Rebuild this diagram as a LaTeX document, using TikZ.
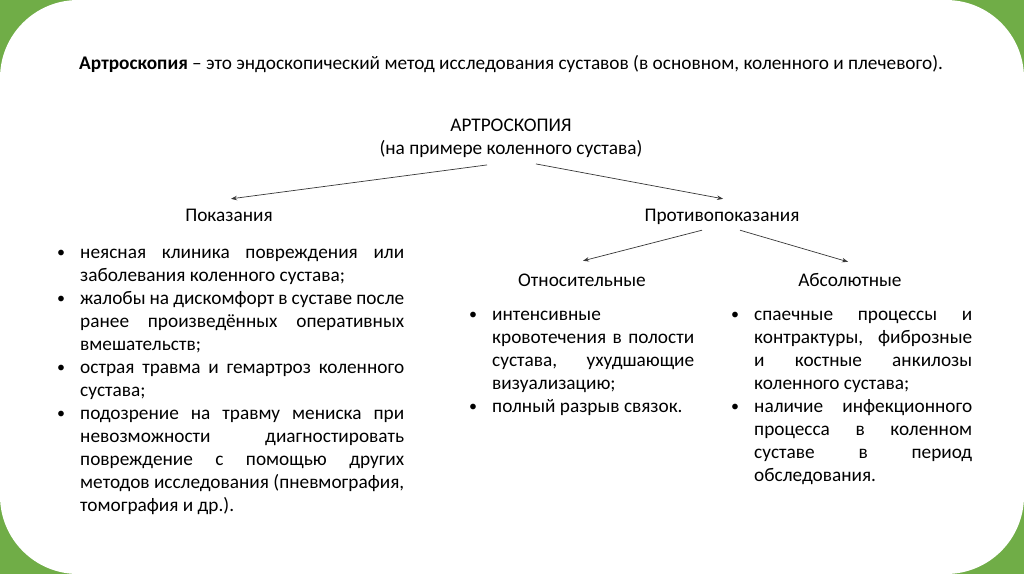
\documentclass[tikz,border=0pt]{standalone}
\usepackage{fontspec}
\setmainfont{Carlito}
\usetikzlibrary{arrows.meta}

\definecolor{slidegreen}{RGB}{112,173,71}
\definecolor{arrowgray}{RGB}{55,55,55}

% bullet item with hanging indent
\newcommand{\bitem}[1]{\par\noindent\hangindent=23pt\hangafter=1\hbox to 23pt{\raisebox{0.8pt}{\fontsize{16}{16}\selectfont\textbullet}\hfil}#1\par}

\tikzset{
  txt/.style={inner sep=0pt, font=\fontsize{19.3}{23}\selectfont},
  head/.style={txt, text height=12pt, text depth=4pt},
  blist/.style={txt, anchor=base west, align=justify,
    execute at begin node={\hyphenpenalty=10000\exhyphenpenalty=10000\tolerance=10000}},
  arr/.style={draw=arrowgray, line width=0.7pt, -{Stealth[length=6pt,width=4.5pt]}}
}

\begin{document}
\begin{tikzpicture}[x=1pt,y=-1pt]

  % Slide background
  \useasboundingbox (0,0) rectangle (1024,574);
  \fill[slidegreen] (0,0) rectangle (1024,574);
  \fill[white, rounded corners=78pt] (0,0) rectangle (1024,574);

  % Title line
  \node[txt, anchor=base west] (title) at (79,69)
    {\textbf{Артроскопия} – это эндоскопический метод исследования суставов (в основном, коленного и плечевого).};

  % Tree headings
  \node[txt, anchor=north, align=center, text depth=4pt] (root) at (511,119)
    {АРТРОСКОПИЯ\\(на примере коленного сустава)};
  \node[head, anchor=base] (pokaz) at (229,221) {Показания};
  \node[head, anchor=base] (protiv) at (722,221) {Противопоказания};
  \node[head, anchor=base] (otnos) at (582,286) {Относительные};
  \node[head, anchor=base] (absol) at (850,286) {Абсолютные};

  % Connect the headings
  \draw[arr] ([xshift=-24pt,yshift=-6pt]root.south) -- ([xshift=2pt,yshift=10pt]pokaz.north);
  \draw[arr] ([xshift=25pt,yshift=-5pt]root.south) -- ([xshift=1pt,yshift=10pt]protiv.north);
  \draw[arr] ([xshift=-20pt,yshift=-5pt]protiv.south) -- ([xshift=1pt,yshift=13pt]otnos.north);
  \draw[arr] ([xshift=18pt,yshift=-5pt]protiv.south) -- ([xshift=-2pt,yshift=12pt]absol.north);

  % Lists
  \node[blist, text width=347pt] (listpokaz) at (57,235) {%
    \bitem{неясная клиника повреждения или\linebreak заболевания коленного сустава;}%
    \bitem{жалобы на дискомфорт в суставе после\linebreak ранее произведённых оперативных\linebreak вмешательств;}%
    \bitem{острая травма и гемартроз коленного\linebreak сустава;}%
    \bitem{подозрение на травму мениска при\linebreak невозможности диагностировать\linebreak повреждение с помощью других\linebreak методов исследования (пневмография,\linebreak томография и др.).}};
  \node[blist, text width=225pt] (listotnos) at (469,297) {%
    \bitem{интенсивные\newline кровотечения в полости\linebreak сустава, ухудшающие\linebreak визуализацию;}%
    \bitem{полный разрыв связок.}};
  \node[blist, text width=241pt] (listabsol) at (731,297) {%
    \bitem{спаечные процессы и\linebreak контрактуры, фиброзные\linebreak и костные анкилозы\linebreak коленного сустава;}%
    \bitem{наличие инфекционного\linebreak процесса в коленном\linebreak суставе в период\linebreak обследования.}};

\end{tikzpicture}
\end{document}
